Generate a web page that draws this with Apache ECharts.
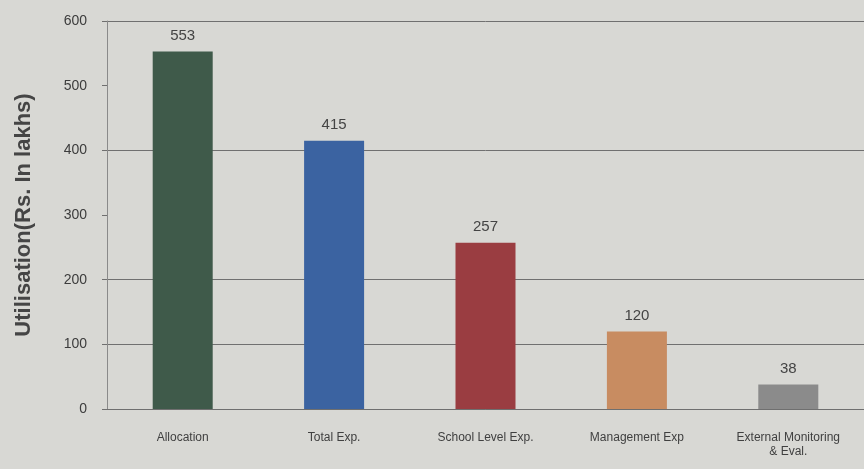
<!DOCTYPE html>
<html><head><meta charset="utf-8">
<script src="https://cdn.jsdelivr.net/npm/echarts@6/dist/echarts.min.js"></script>
<style>html,body{margin:0;padding:0;background:#d8d8d4;}#c{width:864px;height:469px;}</style>
</head><body><div id="c"></div>
<script>
const categories = ['Allocation', 'Total Exp.', 'School Level Exp.', 'Management Exp', 'External Monitoring\n& Eval.'];
const values = [553, 415, 257, 120, 38];
const barColors = ['#3f5a4a', '#3b63a1', '#9a3d41', '#c88c61', '#8b8b8b'];
const yTicks = { min: 0, max: 600, interval: 100 };
const yTitle = 'Utilisation(Rs. In lakhs)';

const font = "'Liberation Sans Narrow', 'Liberation Sans', Arial, sans-serif";
const chart = echarts.init(document.getElementById('c'), null, { renderer: 'canvas' });
chart.setOption({
  backgroundColor: '#d8d8d4',
  animation: false,
  grid: { left: 107, right: 0, top: 21, bottom: 60 },
  xAxis: {
    type: 'category',
    data: categories,
    axisLine: { show: true, lineStyle: { color: '#6f6f6f', width: 1 } },
    axisTick: { show: false },
    axisLabel: { color: '#404040', fontFamily: font, fontSize: 12, margin: 22, lineHeight: 14, interval: 0 }
  },
  yAxis: {
    type: 'value',
    min: yTicks.min, max: yTicks.max, interval: yTicks.interval,
    name: yTitle,
    nameLocation: 'middle',
    nameGap: 72,
    nameTextStyle: { color: '#454545', fontFamily: font, fontSize: 22, fontWeight: 'bold' },
    axisLine: { show: true, lineStyle: { color: '#8a8a8a', width: 1 } },
    axisTick: { show: true, length: 5, lineStyle: { color: '#6f6f6f' } },
    axisLabel: { color: '#3c3c3c', fontFamily: font, fontSize: 14, margin: 20 },
    splitLine: { show: true, lineStyle: { color: ['#707070', '#707070', '#707070', 'rgba(0,0,0,0)', '#707070', 'rgba(0,0,0,0)', '#707070'], width: 1 } }
  },
  series: [{
    type: 'bar',
    data: values.map((v, i) => ({ value: v, itemStyle: { color: barColors[i] } })),
    barWidth: 60,
    label: { show: true, position: 'top', distance: 8, color: '#444', fontFamily: font, fontSize: 15 }
  }]
});
</script>
</body></html>
